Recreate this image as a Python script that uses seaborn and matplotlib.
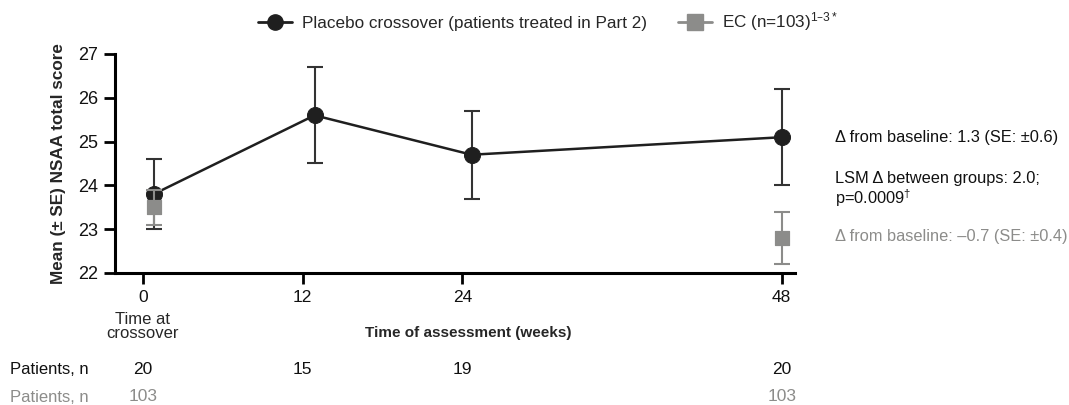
import matplotlib
matplotlib.use("Agg")
import matplotlib.pyplot as plt
from matplotlib.lines import Line2D
import seaborn as sns
import pandas as pd

# ---- data ----
placebo_weeks = [0.8, 12.9, 24.7, 48.0]
placebo_mean = [23.8, 25.6, 24.7, 25.1]
placebo_se = [0.8, 1.1, 1.0, 1.1]
ec_weeks = [0.8, 48.0]
ec_mean = [23.5, 22.8]
ec_se = [0.4, 0.6]
tick_weeks = [0, 12, 24, 48]
tick_labels = ["0", "12", "24", "48"]
placebo_n = ["20", "15", "19", "20"]
ec_n_weeks = [0, 48]
ec_n = ["103", "103"]
y_ticks = [22, 23, 24, 25, 26, 27]

DARK = "#1f1f1f"
GRAY = "#8c8c8a"

sns.set_theme(style="white")
plt.rcParams["font.family"] = ["Liberation Sans", "DejaVu Sans"]
plt.rcParams["mathtext.default"] = "regular"

fig = plt.figure(figsize=(10.69, 4.05), dpi=100)
ax = fig.add_axes([115 / 1069, 1 - 273 / 405, (795 - 115) / 1069, (273 - 54) / 405])

pl = pd.DataFrame({"week": placebo_weeks, "mean": placebo_mean})
ec = pd.DataFrame({"week": ec_weeks, "mean": ec_mean})

ax.errorbar(placebo_weeks, placebo_mean, yerr=placebo_se, fmt="none",
            ecolor="#333333", elinewidth=1.5, capsize=6, capthick=1.5, zorder=2)
sns.lineplot(data=pl, x="week", y="mean", ax=ax, color=DARK, linewidth=1.8,
             marker="o", markersize=11.5, markeredgecolor=DARK, zorder=3, legend=False)
ax.errorbar(ec_weeks, ec_mean, yerr=ec_se, fmt="none",
            ecolor=GRAY, elinewidth=1.5, capsize=6, capthick=1.5, zorder=4)
sns.scatterplot(data=ec, x="week", y="mean", ax=ax, color=GRAY, marker="s",
                s=115, edgecolor=GRAY, zorder=5, legend=False)

ax.set_xlim(-2.1, 49.0)
ax.set_ylim(22, 27)
ax.set_xticks(tick_weeks)
ax.set_xticklabels(tick_labels, fontsize=12.5)
ax.set_yticks(y_ticks)
ax.set_yticklabels([str(v) for v in y_ticks], fontsize=13)
ax.tick_params(axis="both", direction="out", length=8, width=2, color="black",
               bottom=True, left=True, pad=4, labelcolor="#111111")
for s in ["top", "right"]:
    ax.spines[s].set_visible(False)
for s in ["left", "bottom"]:
    ax.spines[s].set_linewidth(2.2)
    ax.spines[s].set_color("black")
ax.set_xlabel("")
ax.set_ylabel("Mean (± SE) NSAA total score", fontsize=12.3, fontweight="bold", labelpad=9)

trans = ax.get_xaxis_transform()
fy = lambda py: 1 - py / 405
# sub labels under x axis
ax.text(0, -0.245, "Time at\ncrossover", transform=trans, ha="center", va="center",
        fontsize=12, linespacing=0.9)
fig.text(468 / 1069, fy(333), "Time of assessment (weeks)", ha="center", va="center",
         fontsize=11, fontweight="bold")

# patients rows
fig.text(10 / 1069, fy(370), "Patients, n", ha="left", va="center", fontsize=12,
         color="#111111")
fig.text(10 / 1069, fy(398), "Patients, n", ha="left", va="center", fontsize=12,
         color=GRAY)
for w, n in zip(tick_weeks, placebo_n):
    ax.text(w, -0.44, n, transform=trans, ha="center", va="center", fontsize=12.5,
            color="#111111")
for w, n in zip(ec_n_weeks, ec_n):
    ax.text(w, -0.565, n, transform=trans, ha="center", va="center", fontsize=12.5,
            color=GRAY)

# right annotations
AX = 835 / 1069
fig.text(AX, fy(137), "Δ from baseline: 1.3 (SE: ±0.6)", ha="left", va="center",
         fontsize=11.8, color="#111111")
fig.text(AX, fy(178), "LSM Δ between groups: 2.0;", ha="left", va="center",
         fontsize=11.8, color="#111111")
fig.text(AX, fy(198), "p=0.0009$^{†}$", ha="left", va="center",
         fontsize=11.8, color="#111111")
fig.text(AX, fy(237), "Δ from baseline: \u20130.7 (SE: ±0.4)", ha="left", va="center",
         fontsize=11.8, color=GRAY)

# legend
handles = [
    Line2D([0], [0], color=DARK, linewidth=2, marker="o", markersize=11),
    Line2D([0], [0], color=GRAY, linewidth=2, marker="s", markersize=11),
]
labels = ["Placebo crossover (patients treated in Part 2)", "EC (n=103)$^{1\u20133*}$"]
fig.legend(handles, labels, loc="center", bbox_to_anchor=(548 / 1069, fy(22)), ncol=2,
           frameon=False, fontsize=12.3, handlelength=2.0, columnspacing=1.8,
           handletextpad=0.6)

fig.savefig("out.png", dpi=100)
